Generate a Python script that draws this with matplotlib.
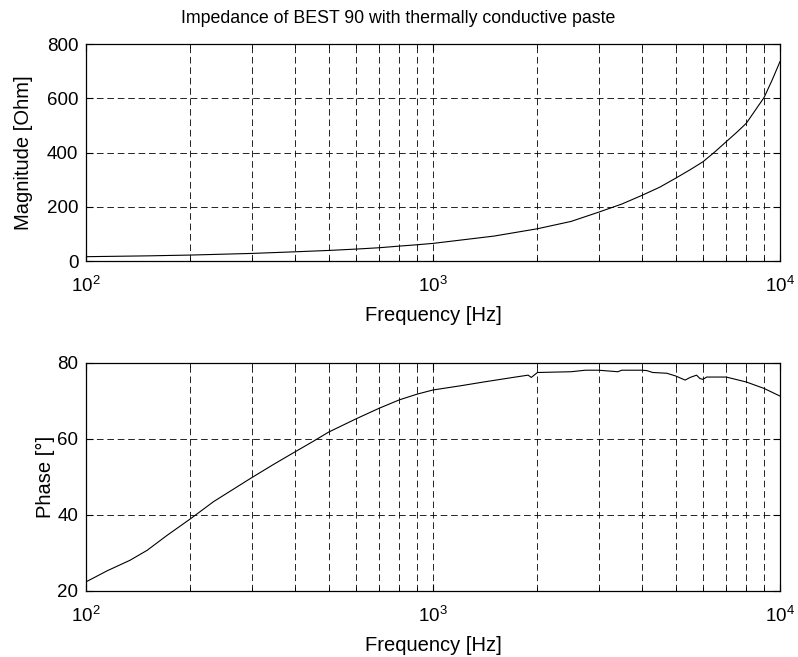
import matplotlib.pyplot as plt
import numpy as np

plt.rcParams['font.family'] = ['Liberation Sans', 'DejaVu Sans']
plt.rcParams['mathtext.default'] = 'regular'

# magnitude of impedance
freq_mag = [100, 150, 200, 300, 400, 500, 600, 700, 800, 900, 1000, 1500, 2000,
            2500, 3000, 3500, 4000, 4500, 5000, 5500, 6000, 6500, 7000, 7500, 8000,
            9000, 9500, 10000]
magnitude = [16, 19, 22, 28, 34, 39, 44, 49, 55, 60, 65, 92, 119,
             146, 180, 210, 242, 272, 305, 336, 366, 403, 440, 474, 508,
             603, 668, 735]

# phase of impedance
freq_ph = [100, 115, 134, 150, 171, 200, 233, 266, 300, 347, 400, 452, 500,
           600, 700, 800, 900, 1000, 1200, 1400, 1700, 1880, 1920, 2000, 2500,
           2750, 3000, 3410, 3500, 4000, 4130, 4300, 4720, 5000, 5330, 5510,
           5750, 5880, 6000, 6150, 7000, 8000, 9000, 10000]
phase = [22.4, 25.3, 28.1, 30.7, 34.6, 39.0, 43.5, 46.8, 49.8, 53.3, 56.6, 59.4, 61.8,
         65.3, 68.1, 70.3, 71.8, 72.9, 74.0, 75.0, 76.2, 76.8, 76.2, 77.5, 77.7,
         78.1, 78.1, 77.7, 78.1, 78.1, 78.0, 77.5, 77.3, 76.6, 75.5, 76.2,
         76.8, 75.9, 75.7, 76.3, 76.3, 75.0, 73.3, 71.3]

fig = plt.figure(figsize=(7.98, 6.57), dpi=100)
ax1 = fig.add_axes([0.1078, 0.6027, 0.8696, 0.3303])
ax2 = fig.add_axes([0.1078, 0.1005, 0.8696, 0.3470])

def style(ax):
    ax.set_xscale('log')
    ax.set_xlim(100, 10000)
    ax.grid(True, which='major', axis='both', color='k', linestyle=(0, (8, 4.5)), linewidth=0.6)
    ax.grid(True, which='minor', axis='x', color='k', linestyle=(0, (8, 4.5)), linewidth=0.6)
    ax.tick_params(which='both', direction='in', top=True, right=True, labelsize=13.5)
    ax.tick_params(which='major', length=5)
    ax.tick_params(which='minor', length=3)
    ax.tick_params(axis='y', pad=5.5)
    ax.tick_params(axis='x', pad=11)
    for s in ax.spines.values():
        s.set_linewidth(0.9)
    ax.set_xlabel('Frequency [Hz]', fontsize=14.5, labelpad=7)

ax1.plot(freq_mag, magnitude, color='k', linewidth=0.8)
style(ax1)
ax1.set_ylim(0, 800)
ax1.set_yticks([0, 200, 400, 600, 800])
ax1.set_ylabel('Magnitude [Ohm]', fontsize=14.5, labelpad=10)

ax2.plot(freq_ph, phase, color='k', linewidth=0.8)
style(ax2)
ax2.set_ylim(20, 80)
ax2.set_yticks([20, 40, 60, 80])
ax2.set_ylabel('Phase [°]', fontsize=14.5, labelpad=2)

fig.text(0.4987, 0.972, 'Impedance of BEST 90 with thermally conductive paste',
         fontsize=12.8, ha='center', va='center')

fig.savefig('out.png', dpi=100)
